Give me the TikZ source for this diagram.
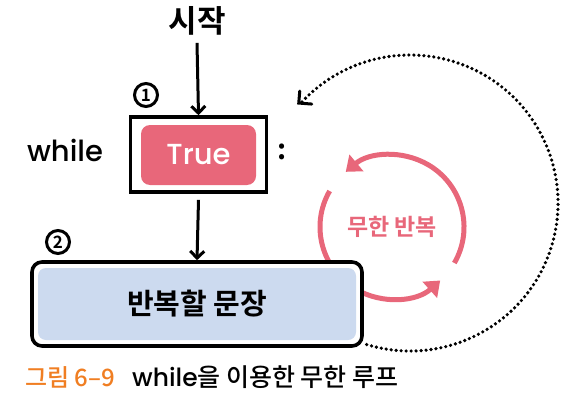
\documentclass[tikz,border=0pt]{standalone}
\usepackage{fontspec}
\setmainfont{Noto Sans CJK KR}
\newfontfamily\krb{Noto Sans CJK KR Bold}
\newfontfamily\krm{Noto Sans CJK KR Medium}
\newfontfamily\pop{Poppins}
\newfontfamily\popm{Poppins Medium}
\usetikzlibrary{arrows.meta,calc}
\definecolor{tred}{HTML}{E8677A}
\definecolor{tblue}{HTML}{CCDAEF}
\definecolor{torange}{HTML}{F07E22}
\tikzset{
  blk/.style={-{Straight Barb[length=7pt,width=14pt,line width=3pt]}, line width=3pt, black},
  dotline/.style={line width=3.6pt, dash pattern=on 0pt off 5pt, line cap=round},
  redarc/.style={line width=5pt, tred, -{Triangle[length=14pt,width=21pt]}},
  numc/.style={circle, draw, line width=3pt, minimum size=23pt, inner sep=0pt, font=\krb\fontsize{17}{17}\selectfont},
}
\begin{document}
\begin{tikzpicture}[x=1pt,y=-1pt]
\useasboundingbox (0,0) rectangle (564,401);
% dotted loop
\coordinate (dc) at (410,203);
\coordinate (dstart) at ($(dc)+({148*cos(107)},{148*sin(107)})$);
\draw[dotline] (dstart) arc[start angle=107, end angle=-137, radius=148] coordinate (dend);
\draw[line width=3pt, line cap=round, line join=miter] ($(dend)+(-2,-11)$) -- ($(dend)+(-3,1)$) -- ($(dend)+(10,2)$);
% red arcs
\coordinate (c) at (392,227);
\draw[redarc] ($(c)+({72*cos(30)},{72*sin(30)})$) arc[start angle=30, end angle=-130, radius=72];
\draw[redarc] ($(c)+({72*cos(-150)},{72*sin(-150)})$) arc[start angle=-150, end angle=-312, radius=72];
\node[text=tred, font=\krb\fontsize{23}{23}\selectfont] (loop) at (c) {무한 반복};
% start
\node[font=\krb\fontsize{31}{31}\selectfont] (start) at (197,21) {시작};
% condition box
\node[draw, line width=3.6pt, minimum width=136pt, minimum height=75pt, inner sep=0pt] (cond) at (198.5,154.5) {};
\node[fill=tred, rounded corners=9pt, minimum width=115pt, minimum height=60pt, text=white, font=\popm\fontsize{29}{29}\selectfont] (true) at (198.5,155) {True};
\node[font=\popm\fontsize{29}{29}\selectfont] (while) at (65,150) {while};
\node[font=\krb\fontsize{28}{28}\selectfont] (colon) at (282,152) {:};
\node[numc] (n1) at (146,95) {1};
% body box
\node[draw, line width=3.6pt, fill=white, rounded corners=10pt, minimum width=330pt, minimum height=84pt] (body) at (197,304) {};
\node[fill=tblue, rounded corners=8pt, minimum width=318pt, minimum height=72pt, font=\krb\fontsize{29}{29}\selectfont] (bodyt) at (197,304) {반복할 문장};
\node[numc] (n2) at (58,242) {2};
% arrows
\draw[blk] (start.south) ++(0,4) coordinate (s0) -- (cond.north);
\draw[blk] (cond.south) ++(0,6) coordinate (s1) -- (body.north);
% caption
\node[anchor=west, text=torange, font=\krm\fontsize{24}{24}\selectfont, inner sep=0pt] (cap1) at (25,377) {그림 6–9};
\node[anchor=west, font=\krm\fontsize{25}{25}\selectfont, inner sep=0pt] (cap2) at (132,377) {{\popm while}을 이용한 무한 루프};
\end{tikzpicture}
\end{document}
